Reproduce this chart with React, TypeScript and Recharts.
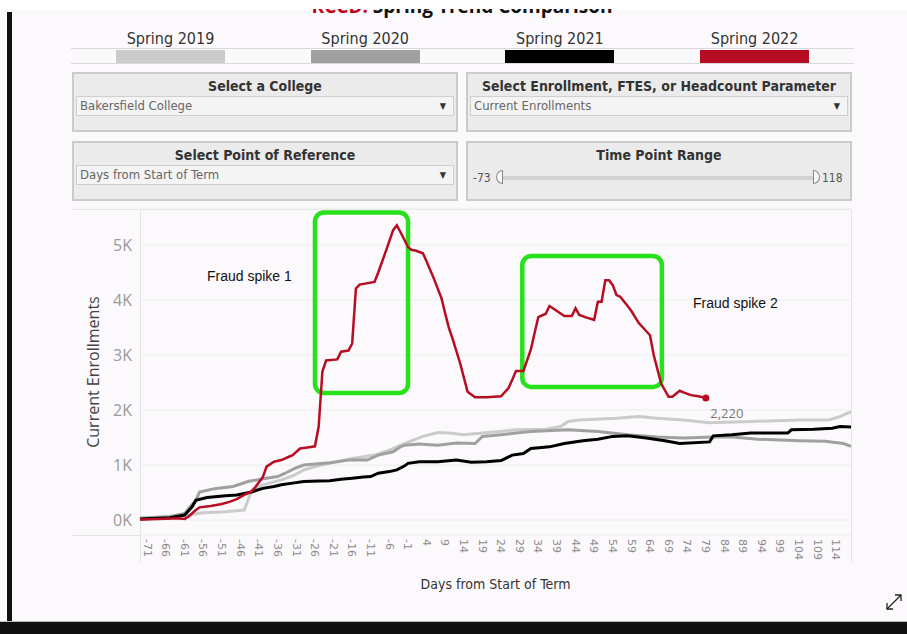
import React from "react";
import {
  CartesianGrid,
  Line,
  LineChart,
  ReferenceArea,
  XAxis,
  YAxis,
} from "recharts";

const SERIES_NAMES = ["Spring 2019", "Spring 2020", "Spring 2021", "Spring 2022"];
const SERIES_COLORS = ["#cbcbcb", "#a0a0a0", "#000000", "#b70d22"];

const days2019 = [-73, -60, -56, -50, -45, -44, -43, -40, -35, -32, -29, -26, -22, -16, -10, -6, -2, 3, 7, 10, 14, 19, 28, 36, 40, 42, 45, 55, 61, 66, 73, 80, 91, 104, 112, 115, 118];
const enroll2019 = [30, 90, 130, 150, 180, 360, 545, 640, 730, 800, 910, 970, 1030, 1120, 1180, 1270, 1390, 1520, 1590, 1580, 1550, 1580, 1640, 1650, 1700, 1790, 1820, 1850, 1880, 1850, 1820, 1770, 1790, 1820, 1820, 1880, 1970];

const days2020 = [-73, -65, -61, -60, -58, -57, -53, -48, -44, -39, -36, -34, -31, -29, -22, -17, -12, -9, -5, -3, -2, 2, 7, 12, 17, 19, 24, 28, 32, 42, 50, 58, 66, 73, 81, 86, 93, 104, 111, 116, 118];
const enroll2020 = [30, 60, 120, 200, 360, 510, 570, 610, 700, 760, 790, 850, 950, 1000, 1040, 1090, 1090, 1180, 1240, 1330, 1360, 1380, 1360, 1400, 1390, 1520, 1550, 1580, 1610, 1640, 1610, 1550, 1510, 1490, 1510, 1510, 1470, 1440, 1430, 1390, 1340];

const days2021 = [-73, -65, -61, -59, -58, -55, -50, -47, -43, -40, -37, -35, -32, -29, -25, -22, -19, -16, -13, -11, -9, -6, -4, -2, -1, 2, 7, 12, 16, 20, 24, 27, 30, 32, 37, 41, 46, 50, 54, 58, 63, 68, 72, 80, 81, 86, 91, 101, 102, 108, 113, 115, 118];
const enroll2021 = [20, 40, 90, 240, 360, 410, 440, 455, 510, 575, 610, 640, 670, 700, 710, 715, 740, 760, 780, 790, 850, 880, 910, 980, 1030, 1060, 1060, 1090, 1050, 1060, 1080, 1180, 1210, 1300, 1330, 1390, 1440, 1470, 1520, 1530, 1490, 1440, 1390, 1420, 1530, 1550, 1580, 1580, 1640, 1650, 1670, 1700, 1690];

const days2022 = [-73, -68, -63, -61, -60, -58, -57, -54, -51, -49, -47, -45, -43, -42, -40, -39, -37, -35, -33, -32, -30, -28, -26, -25, -24, -23, -20, -19, -17, -16, -15, -14, -10, -9, -7, -5, -4, -2, -1, 0, 1, 3, 4, 6, 8, 9, 10, 11, 13, 15, 17, 20, 24, 26, 27, 28, 30, 32, 33, 34, 36, 37, 39, 41, 43, 44, 45, 47, 49, 50, 51, 52, 53, 54, 55, 56, 58, 59, 61, 64, 65, 67, 69, 70, 72, 73, 75, 77, 79];
const enroll2022 = [10, 20, 30, 20, 60, 180, 230, 255, 290, 330, 380, 455, 520, 600, 780, 970, 1060, 1090, 1150, 1180, 1300, 1320, 1340, 1700, 2700, 2900, 2920, 3060, 3080, 3210, 4210, 4280, 4330, 4500, 4880, 5270, 5360, 5100, 4960, 4910, 4900, 4850, 4700, 4380, 4030, 3750, 3490, 3290, 2850, 2330, 2230, 2230, 2250, 2400, 2550, 2710, 2710, 3100, 3400, 3690, 3750, 3890, 3800, 3710, 3710, 3850, 3730, 3680, 3640, 3970, 3970, 4360, 4360, 4270, 4090, 4060, 3890, 3800, 3580, 3360, 3000, 2480, 2240, 2240, 2350, 2320, 2270, 2250, 2220];

const X_TICKS = [-71, -66, -61, -56, -51, -46, -41, -36, -31, -26, -21, -16, -11, -6, -1, 4, 9, 14, 19, 24, 29, 34, 39, 44, 49, 54, 59, 64, 69, 74, 79, 84, 89, 94, 99, 104, 109, 114];
const Y_TICKS = [0, 1000, 2000, 3000, 4000, 5000];

// annotation boxes drawn by hand on the screenshot, in data units
const SPIKE_1 = { x1: -26, x2: -1, y1: 2310, y2: 5590 };
const SPIKE_2 = { x1: 29.7, x2: 67.2, y1: 2420, y2: 4800 };

const toRows = (days: number[], vals: number[]) => days.map((d, i) => ({ day: d, value: vals[i] }));
const seriesRows = [
  toRows(days2019, enroll2019),
  toRows(days2020, enroll2020),
  toRows(days2021, enroll2021),
  toRows(days2022, enroll2022),
];

const UI_FONT = '"Liberation Sans Narrow", "DejaVu Sans Condensed", "DejaVu Sans", sans-serif';

const fmtK = (v: number) => `${v / 1000}K`;

function XTick({ x, y, payload }: any) {
  return (
    <text
      x={x}
      y={y}
      dy="0.35em"
      transform={`rotate(90, ${x}, ${y})`}
      textAnchor="start"
      fontSize={11}
      fill="#8a8a8a"
      fontFamily='"DejaVu Sans", sans-serif'
    >
      {payload.value}
    </text>
  );
}

function GreenBox(p: any) {
  return (
    <rect
      x={p.x}
      y={p.y}
      width={p.width}
      height={p.height}
      rx={9}
      fill="none"
      stroke="#27e11b"
      strokeWidth={4.5}
    />
  );
}

function Panel({ left, top, title, children }: any) {
  return (
    <div
      style={{
        position: "absolute",
        left,
        top,
        width: 386,
        height: 60,
        boxSizing: "border-box",
        background: "#ebebeb",
        border: "2px solid #cbcbcb",
        fontFamily: UI_FONT,
      }}
    >
      <div style={{ textAlign: "center", fontWeight: 700, fontSize: 14, color: "#333", marginTop: 4, lineHeight: "16px" }}>
        {title}
      </div>
      {children}
    </div>
  );
}

function Dropdown({ text }: { text: string }) {
  return (
    <div
      style={{
        position: "absolute",
        left: 2,
        top: 22,
        width: 378,
        height: 20,
        boxSizing: "border-box",
        background: "#f4f4f4",
        border: "1px solid #cfcfcf",
        fontSize: 13,
        color: "#666",
        lineHeight: "18px",
        paddingLeft: 3,
      }}
    >
      {text}
      <span style={{ position: "absolute", right: 7, top: 0, fontSize: 9, color: "#333" }}>▼</span>
    </div>
  );
}

export default function App() {
  const last = days2022.length - 1;
  return (
    <div style={{ position: "fixed", left: 0, top: 0, width: 907, height: 634, background: "#fcf9fc", overflow: "hidden" }}>
      {/* clipped dashboard title */}
      <div
        style={{
          position: "absolute",
          left: 0,
          width: 924,
          top: -4,
          textAlign: "center",
          fontFamily: '"Open Sans", sans-serif',
          fontWeight: 700,
          fontSize: 19,
          lineHeight: "20px",
          color: "#111",
        }}
      >
        <span style={{ color: "#c0001a" }}>KCCD:</span> Spring Trend Comparison
      </div>
      <div style={{ position: "absolute", left: 0, top: 0, width: 907, height: 9, background: "#ffffff" }} />
      <div style={{ position: "absolute", left: 7, top: 12, width: 5, height: 622, background: "#111" }} />
      <div style={{ position: "absolute", left: 0, top: 621, width: 907, height: 1, background: "#bbb" }} />
      <div style={{ position: "absolute", left: 0, top: 622, width: 907, height: 12, background: "#111" }} />

      {/* colour legend */}
      <div style={{ position: "absolute", left: 71, top: 48, width: 783, height: 1, background: "#d9d9d9" }} />
      <div style={{ position: "absolute", left: 71, top: 63, width: 783, height: 1, background: "#d9d9d9" }} />
      {SERIES_NAMES.map((name, i) => {
        const left = 116 + i * 194.7;
        return (
          <React.Fragment key={name}>
            <div
              style={{
                position: "absolute",
                left: left - 20,
                top: 30,
                width: 149,
                textAlign: "center",
                fontFamily: UI_FONT,
                fontSize: 16,
                color: "#333",
                lineHeight: "18px",
              }}
            >
              {name}
            </div>
            <div style={{ position: "absolute", left, top: 50, width: 109, height: 13, background: SERIES_COLORS[i] }} />
          </React.Fragment>
        );
      })}

      {/* filter controls */}
      <Panel left={72} top={72} title="Select a College">
        <Dropdown text="Bakersfield College" />
      </Panel>
      <Panel left={466} top={72} title="Select Enrollment, FTES, or Headcount Parameter">
        <Dropdown text="Current Enrollments" />
      </Panel>
      <Panel left={72} top={141} title="Select Point of Reference">
        <Dropdown text="Days from Start of Term" />
      </Panel>
      <Panel left={466} top={141} title="Time Point Range">
        <div style={{ position: "absolute", left: 5, top: 28, fontSize: 12, color: "#555" }}>-73</div>
        <div style={{ position: "absolute", left: 34, top: 33, width: 316, height: 4, background: "#d2d2d2" }} />
        <div style={{ position: "absolute", left: 28, top: 27, width: 7, height: 14, boxSizing: "border-box", border: "1px solid #888", borderRadius: "7px 0 0 7px", background: "#f8f8f8" }} />
        <div style={{ position: "absolute", left: 345, top: 27, width: 7, height: 14, boxSizing: "border-box", border: "1px solid #888", borderRadius: "0 7px 7px 0", background: "#f8f8f8" }} />
        <div style={{ position: "absolute", left: 354, top: 28, fontSize: 12, color: "#555" }}>118</div>
      </Panel>

      {/* chart pane frame */}
      <div style={{ position: "absolute", left: 72, top: 209, width: 780, height: 1, background: "#e4e4e4" }} />
      <div style={{ position: "absolute", left: 72, top: 535, width: 68, height: 1, background: "#e4e4e4" }} />
      <div style={{ position: "absolute", left: 140, top: 209, width: 1, height: 354, background: "#e4e4e4" }} />
      <div style={{ position: "absolute", left: 851, top: 209, width: 1, height: 354, background: "#e4e4e4" }} />

      <div style={{ position: "absolute", left: 0, top: 0 }}>
        <LineChart width={907} height={634} margin={{ top: 209, right: 56, bottom: 41, left: 73 }}>
          <CartesianGrid vertical={false} stroke="#ededed" strokeWidth={1} />
          <XAxis
            type="number"
            dataKey="day"
            domain={[-72.5, 118]}
            ticks={X_TICKS}
            interval={0}
            height={58}
            axisLine={false}
            tickLine={false}
            tickSize={0}
            tickMargin={4}
            tick={<XTick />}
            label={{
              value: "Days from Start of Term",
              position: "insideBottom",
              offset: 4,
              fontSize: 14,
              fill: "#333",
              fontFamily: UI_FONT,
            }}
          />
          <YAxis
            type="number"
            domain={[-273, 5655]}
            ticks={Y_TICKS}
            width={67}
            axisLine={false}
            tickLine={false}
            tickSize={0}
            tickMargin={8}
            tickFormatter={fmtK}
            tick={{ fontSize: 16, fill: "#9a9a9a", fontFamily: '"Open Sans", sans-serif' }}
            label={{
              value: "Current Enrollments",
              angle: -90,
              position: "insideLeft",
              offset: 20,
              fontSize: 16,
              fill: "#444",
              fontFamily: '"Open Sans", sans-serif',
              style: { textAnchor: "middle" },
            }}
          />
          {seriesRows.map((rows, i) => (
            <Line
              key={SERIES_NAMES[i]}
              data={rows}
              dataKey="value"
              type="linear"
              stroke={SERIES_COLORS[i]}
              strokeWidth={i === 3 ? 2.5 : 3}
              dot={
                i === 3
                  ? (p: any) =>
                      p.index === last ? (
                        <g key="end">
                          <circle cx={p.cx} cy={p.cy} r={3.5} fill={SERIES_COLORS[3]} />
                          <text x={p.cx + 21} y={p.cy + 20} textAnchor="middle" fontSize={13} fill="#777" fontFamily='"Open Sans", sans-serif'>
                            {enroll2022[last].toLocaleString("en-US")}
                          </text>
                        </g>
                      ) : (
                        <g key={`d${p.index}`} />
                      )
                  : false
              }
              isAnimationActive={false}
            />
          ))}
          <ReferenceArea {...SPIKE_1} shape={GreenBox} ifOverflow="visible" />
          <ReferenceArea {...SPIKE_2} shape={GreenBox} ifOverflow="visible" />
        </LineChart>
      </div>

      {/* annotations */}
      <div style={{ position: "absolute", left: 207, top: 268, fontFamily: '"Liberation Sans", Arial, sans-serif', fontSize: 14, color: "#111" }}>
        Fraud spike 1
      </div>
      <div style={{ position: "absolute", left: 693, top: 295, fontFamily: '"Liberation Sans", Arial, sans-serif', fontSize: 14, color: "#111" }}>
        Fraud spike 2
      </div>

      {/* expand icon */}
      <svg style={{ position: "absolute", left: 884, top: 592 }} width={20} height={20}>
        <line x1={3} y1={17} x2={17} y2={3} stroke="#222" strokeWidth={1.3} />
        <polyline points="11,3 17,3 17,9" fill="none" stroke="#222" strokeWidth={1.3} />
        <polyline points="3,11 3,17 9,17" fill="none" stroke="#222" strokeWidth={1.3} />
      </svg>
    </div>
  );
}
